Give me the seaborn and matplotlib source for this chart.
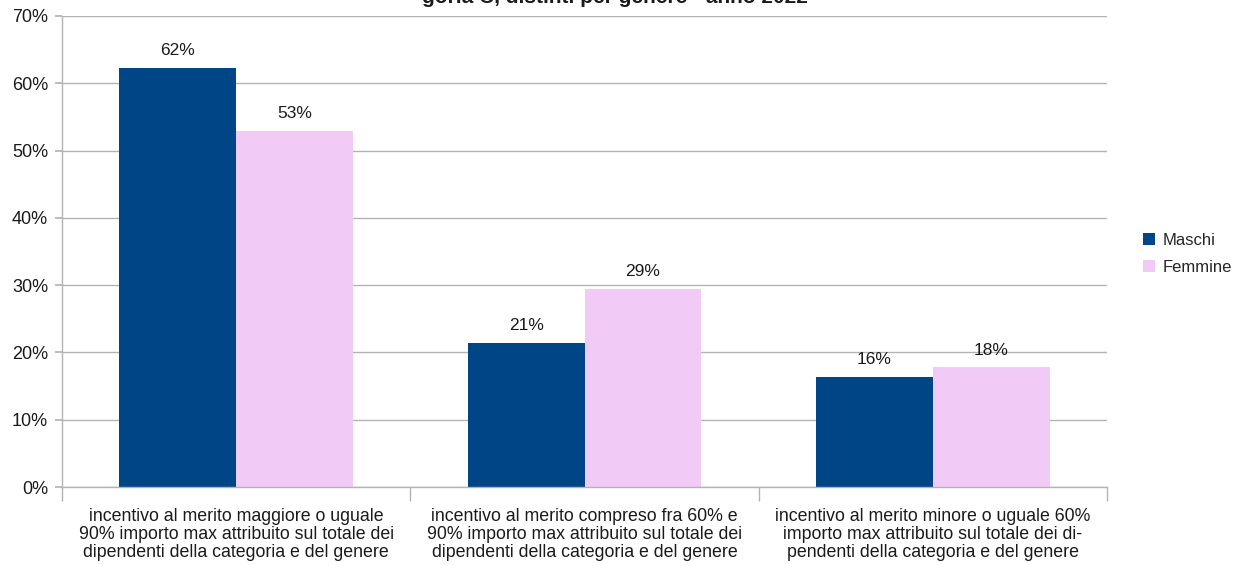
import matplotlib
matplotlib.use("Agg")
import matplotlib.pyplot as plt
import pandas as pd
import seaborn as sns
from matplotlib.ticker import FuncFormatter, MultipleLocator

CATEGORIES = [
    "incentivo al merito maggiore o uguale\n90% importo max attribuito sul totale dei\ndipendenti della categoria e del genere",
    "incentivo al merito compreso fra 60% e\n90% importo max attribuito sul totale dei\ndipendenti della categoria e del genere",
    "incentivo al merito minore o uguale 60%\nimporto max attribuito sul totale dei di-\npendenti della categoria e del genere",
]
SERIES = ["Maschi", "Femmine"]
MASCHI = [62.3, 21.4, 16.4]
FEMMINE = [52.9, 29.4, 17.8]
COLORS = ["#004586", "#f1cbf6"]
TITLE = "goria C, distinti per genere - anno 2022"

df = pd.DataFrame({
    "categoria": CATEGORIES * 2,
    "genere": [SERIES[0]] * 3 + [SERIES[1]] * 3,
    "valore": MASCHI + FEMMINE,
})

sns.set_theme(style="white")
plt.rcParams["font.family"] = ["Liberation Sans", "DejaVu Sans"]

fig = plt.figure(figsize=(12.37, 5.65), dpi=100)
ax = fig.add_axes([62 / 1237, 1 - 487 / 565, (1107 - 62) / 1237, (487 - 16) / 565])

sns.barplot(data=df, x="categoria", y="valore", hue="genere", palette=COLORS,
            width=0.67, saturation=1, linewidth=0, ax=ax, legend=True)

for cont in ax.containers:
    ax.bar_label(cont, labels=[f"{v:.0f}%" for v in cont.datavalues],
                 padding=7, fontsize=12.5, color="#1a1a1a")

ax.set_ylim(0, 70)
ax.set_xlim(-0.5, 2.5)
ax.yaxis.set_major_locator(MultipleLocator(10))
ax.yaxis.set_major_formatter(FuncFormatter(lambda v, _: f"{v:.0f}%"))
ax.grid(axis="y", color="#b3b3b3", linewidth=1)
ax.set_axisbelow(True)
ax.set_xlabel("")
ax.set_ylabel("")

for side in ["top", "right"]:
    ax.spines[side].set_visible(False)
for side in ["left", "bottom"]:
    ax.spines[side].set_color("#b3b3b3")
    ax.spines[side].set_linewidth(1)

ax.tick_params(axis="y", left=True, length=5, color="#b3b3b3", labelsize=13,
               labelcolor="#1a1a1a", pad=5)
ax.set_xticks([0, 1, 2])
ax.set_xticklabels(CATEGORIES, fontsize=12.8, color="#1a1a1a", linespacing=1.08)
ax.tick_params(axis="x", bottom=False, pad=9)
ax.set_xticks([-0.5, 0.5, 1.5, 2.5], minor=True)
ax.tick_params(axis="x", which="minor", bottom=True, length=10, color="#b3b3b3")

leg = ax.legend(loc="center left", bbox_to_anchor=(1.02, 0.495), frameon=False,
                fontsize=12, handlelength=0.7, handleheight=0.7, handletextpad=0.5,
                labelspacing=0.75)

fig.text(0.497, 1 - 7 / 565, TITLE, ha="center", va="bottom", fontsize=15,
         fontweight="bold", color="#1a1a1a")

fig.savefig("out.png", dpi=100)
